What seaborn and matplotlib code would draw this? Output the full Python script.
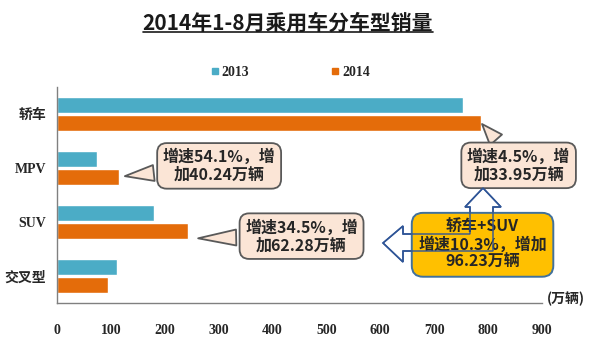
import matplotlib
matplotlib.use("Agg")
import matplotlib.pyplot as plt
import seaborn as sns
import pandas as pd
from matplotlib.patches import Polygon
from matplotlib.lines import Line2D

# 数据 (万辆)
categories = ['轿车', 'MPV', 'SUV', '交叉型']
years = ['2013', '2014']
sales_2013 = [754.0, 74.4, 180.5, 111.0]
sales_2014 = [788.0, 114.6, 242.8, 95.0]
colors = ['#4bacc6', '#e46c0a']

df = pd.DataFrame({
    'cat': categories * 2,
    'year': [years[0]] * 4 + [years[1]] * 4,
    'val': sales_2013 + sales_2014,
})

sns.set_style('white')
plt.rcParams['font.family'] = ['Liberation Serif', 'Noto Sans CJK SC', 'DejaVu Sans']
cjk = ['Noto Sans CJK SC', 'DejaVu Sans']

fig = plt.figure(figsize=(6, 3.55), dpi=100)
ax = fig.add_axes([0.095, 0.146, 0.808, 0.609])

sns.barplot(data=df, y='cat', x='val', hue='year', orient='h',
            palette=colors, width=0.68, gap=0.12, ax=ax, legend=False,
            saturation=1)

ax.set_xlim(0, 900)
ax.set_xticks(range(0, 901, 100))
ax.set_xlabel('')
ax.set_ylabel('')
for s in ['top', 'right']:
    ax.spines[s].set_visible(False)
for s in ['left', 'bottom']:
    ax.spines[s].set_color('#808080')
    ax.spines[s].set_linewidth(1.0)
ax.tick_params(axis='x', direction='in', length=4, color='#808080', pad=15,
               labelsize=10)
ax.tick_params(axis='y', length=0, pad=8, labelsize=10)
for lab in ax.get_xticklabels() + ax.get_yticklabels():
    lab.set_fontweight('bold')

ax.text(1.01, 0.02, '(万辆)', transform=ax.transAxes, fontsize=10,
        fontweight='bold', family=cjk, va='center', ha='left')

# 图例
handles = [Line2D([], [], marker='s', ls='', color=c, markersize=4) for c in colors]
fig.legend(handles, years, loc='center', bbox_to_anchor=(0.485, 0.797), ncol=2,
           frameon=False, handlelength=0.4, handletextpad=0.3, columnspacing=6,
           prop={'weight': 'bold', 'size': 10, 'family': 'Liberation Serif'})

# 标题 (带下划线)
title = fig.text(0.48, 0.935, '2014年1-8月乘用车分车型销量', ha='center', va='center',
                 fontsize=15, fontweight='bold', family=cjk, color='#1a1a1a')
fig.canvas.draw()
bb = title.get_window_extent().transformed(fig.transFigure.inverted())
fig.add_artist(Line2D([bb.x0, bb.x1], [bb.y0 + 0.005, bb.y0 + 0.005],
                      color='#1a1a1a', lw=1.2, transform=fig.transFigure))

# 标注
callout = dict(boxstyle='round,pad=0.35,rounding_size=0.6', fc='#fbe5d6', ec='#595959', lw=1.3)
wedge = dict(arrowstyle='wedge,tail_width=1.0,shrink_factor=0.5', fc='#fbe5d6',
             ec='#595959', lw=1.3, shrinkB=0)
notes = [
    ('增速54.1%，增\n加40.24万辆', (126, 1.15), (301, 0.96)),
    ('增速34.5%，增\n加62.28万辆', (262, 2.30), (454, 2.26)),
    ('增速4.5%，增\n加33.95万辆', (789, 0.185), (857, 0.95)),
]
for txt, tip, pos in notes:
    ax.annotate(txt, xy=tip, xytext=pos, ha='center', va='center', fontsize=11.5,
                fontweight='bold', family=cjk, linespacing=1.15, bbox=callout,
                arrowprops=wedge, annotation_clip=False, zorder=4)


# 空心箭头 (像素坐标 -> 图形坐标)
def px(x, y):
    return (x / 600, 1 - y / 355)


arrow_pts = [px(*p) for p in [(383, 243), (403, 226), (403, 234), (470, 234),
                              (470, 207), (465, 207), (483, 188), (501, 207),
                              (493, 207), (493, 251), (403, 251), (403, 262)]]
ax.add_patch(Polygon(arrow_pts, closed=True, fc='white', ec='#2f5597', lw=1.2,
                     transform=fig.transFigure, zorder=2, clip_on=False))

ax.text(790, 2.42, '轿车+SUV\n增速10.3%，增加\n96.23万辆', ha='center', va='center',
        fontsize=11.5, fontweight='bold', family=cjk, linespacing=1.1, zorder=3,
        bbox=dict(boxstyle='round,pad=0.4,rounding_size=0.7', fc='#ffc000',
                  ec='#41719c', lw=1.4))

ax.add_patch(Polygon(arrow_pts, closed=True, fill=False, ec='#2f5597', lw=1.0,
                     transform=fig.transFigure, zorder=6, clip_on=False))

fig.savefig('out.png', dpi=100)
